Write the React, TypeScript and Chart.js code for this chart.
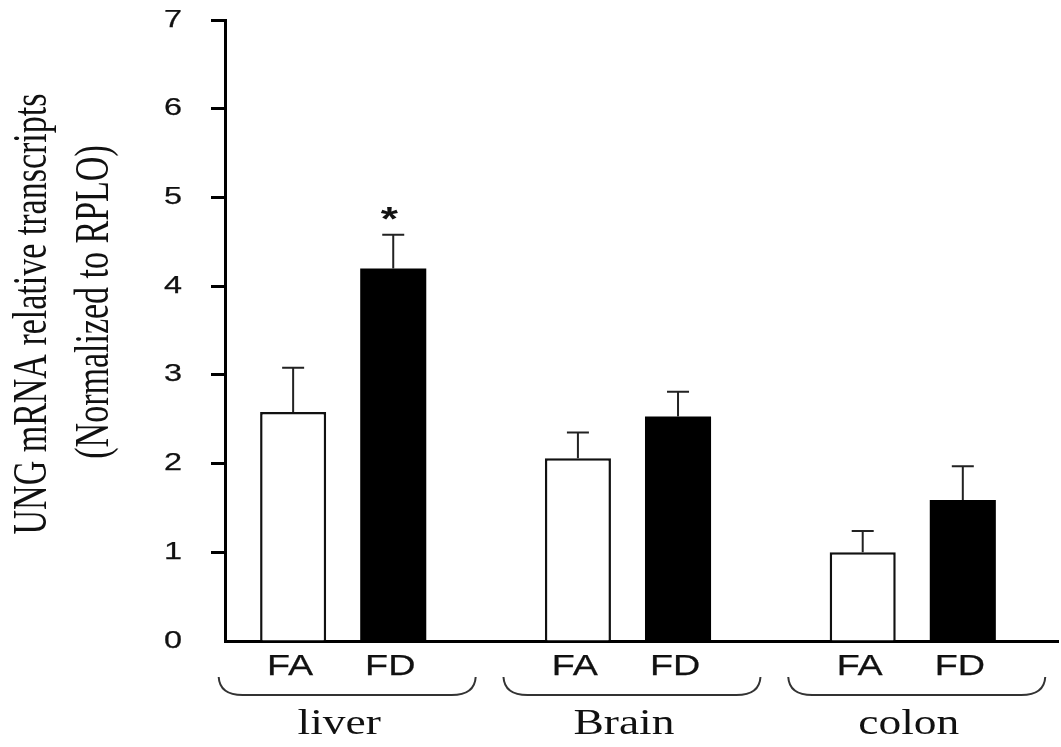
import React, { useEffect, useRef } from 'react';
import { Chart, registerables } from 'chart.js';

Chart.register(...registerables);

// Tissues on the x axis and the two diet groups shown in each
const tissues = ['liver', 'Brain', 'colon'];
const groupNames = ['FA', 'FD'];

// Mean relative transcript levels and their upper error (SEM)
const faMeans = [2.58, 2.06, 1.0];
const faErrors = [0.5, 0.29, 0.24];
const fdMeans = [4.2, 2.53, 1.59];
const fdErrors = [0.38, 0.28, 0.38];

// Significance marks over the FD bars
const fdMarks = ['*', '', ''];

// Value axis
const yTicks = [0, 1, 2, 3, 4, 5, 6, 7];
const yTitleLines = ['UNG mRNA relative transcripts', '(Normalized to RPLO)'];

const INK = '#111111';

// Draw text widened horizontally on screen
function wideText(
  ctx: CanvasRenderingContext2D,
  text: string,
  x: number,
  y: number,
  font: string,
  sx: number,
  align: CanvasTextAlign,
  baseline: CanvasTextBaseline,
  weight = 0
) {
  ctx.save();
  ctx.translate(x, y);
  ctx.scale(sx, 1);
  ctx.font = font;
  ctx.fillStyle = INK;
  ctx.textAlign = align;
  ctx.textBaseline = baseline;
  ctx.fillText(text, 0, 0);
  if (weight > 0) {
    ctx.strokeStyle = INK;
    ctx.lineWidth = weight;
    ctx.strokeText(text, 0, 0);
  }
  ctx.restore();
}

// Rotated (bottom-to-top) text, widened across the screen x direction
function upText(
  ctx: CanvasRenderingContext2D,
  text: string,
  xBaseline: number,
  yCenter: number,
  font: string,
  sx: number
) {
  ctx.save();
  ctx.translate(xBaseline, yCenter);
  ctx.rotate(-Math.PI / 2);
  ctx.scale(1, sx);
  ctx.font = font;
  ctx.fillStyle = INK;
  ctx.textAlign = 'center';
  ctx.textBaseline = 'alphabetic';
  ctx.fillText(text, 0, 0);
  ctx.restore();
}

const annotations = {
  id: 'annotations',
  afterDraw(chart: any) {
    const ctx: CanvasRenderingContext2D = chart.ctx;
    const xs = chart.scales.x;
    const ys = chart.scales.y;

    // y tick labels
    ys.ticks.forEach((t: any) => {
      const py = ys.getPixelForValue(t.value);
      wideText(ctx, String(t.value), 182, py, '24px "Liberation Sans", Arial, sans-serif', 1.35, 'right', 'middle', 0.25);
    });

    // y axis title
    upText(ctx, yTitleLines[0], 46, 314, '34px "Liberation Serif", "Times New Roman", serif', 1.4);
    upText(ctx, yTitleLines[1], 108, 302, '34px "Liberation Serif", "Times New Roman", serif', 1.4);

    // error bars, significance marks and group names under the bars
    chart.data.datasets.forEach((ds: any, di: number) => {
      const meta = chart.getDatasetMeta(di);
      meta.data.forEach((bar: any, i: number) => {
        const v = ds.data[i].y + ds.errors[i];
        const top = ys.getPixelForValue(v);
        ctx.save();
        ctx.strokeStyle = '#222';
        ctx.lineWidth = 2;
        ctx.beginPath();
        ctx.moveTo(bar.x, bar.y);
        ctx.lineTo(bar.x, top);
        ctx.moveTo(bar.x - 11, top);
        ctx.lineTo(bar.x + 11, top);
        ctx.stroke();
        ctx.restore();

        const mark = ds.marks[i];
        if (mark) {
          wideText(ctx, mark, bar.x - 4, top - 5, 'bold 34px "Liberation Sans", Arial, sans-serif', 1.3, 'center', 'alphabetic');
        }

        wideText(ctx, ds.label, bar.x - 3, 667, '29px "Liberation Sans", Arial, sans-serif', 1.3, 'center', 'middle', 0.25);
      });
    });

    // braces and tissue names
    tissues.forEach((name, i) => {
      const cx = xs.getPixelForValue(i);
      const bc = cx + 4;
      const hw = 128.5;
      const yEnd = 677;
      const yLine = 695;
      ctx.save();
      ctx.strokeStyle = '#333';
      ctx.lineWidth = 2;
      ctx.beginPath();
      ctx.moveTo(bc - hw, yEnd);
      ctx.quadraticCurveTo(bc - hw + 1, yLine, bc - hw + 24, yLine);
      ctx.lineTo(bc + hw - 24, yLine);
      ctx.quadraticCurveTo(bc + hw - 1, yLine, bc + hw, yEnd);
      ctx.stroke();
      ctx.restore();

      wideText(ctx, name, cx - 4, 734, '35px "Liberation Serif", "Times New Roman", serif', 1.3, 'center', 'alphabetic');
    });
  },
};

export default function App() {
  const canvasRef = useRef<HTMLCanvasElement | null>(null);

  useEffect(() => {
    const canvas = canvasRef.current;
    if (!canvas) return;

    const chart = new Chart(canvas, {
      type: 'bar',
      data: {
        datasets: [
          {
            label: groupNames[0],
            data: tissues.map((_, i) => ({ x: i, y: faMeans[i] })),
            errors: faErrors,
            marks: ['', '', ''],
            backgroundColor: '#ffffff',
            borderColor: '#111111',
            borderWidth: 2.5,
            borderSkipped: 'start',
            categoryPercentage: 0.703,
            barPercentage: 0.66,
          } as any,
          {
            label: groupNames[1],
            data: tissues.map((_, i) => ({ x: i, y: fdMeans[i] })),
            errors: fdErrors,
            marks: fdMarks,
            backgroundColor: '#000000',
            borderColor: '#000000',
            borderWidth: 0,
            categoryPercentage: 0.703,
            barPercentage: 0.66,
          } as any,
        ],
      },
      options: {
        animation: false,
        responsive: false,
        devicePixelRatio: 1,
        layout: { padding: { left: 211, top: 20, right: 3, bottom: 106 } },
        plugins: {
          legend: { display: false },
          tooltip: { enabled: false },
        },
        scales: {
          x: {
            type: 'linear',
            min: -0.415,
            max: 2.51,
            offset: false,
            afterBuildTicks: (scale: any) => {
              scale.ticks = tissues.map((_, i) => ({ value: i }));
            },
            ticks: { display: false },
            grid: { display: true, drawOnChartArea: false, drawTicks: false, offset: false },
            border: { display: true, color: '#000', width: 3 },
          },
          y: {
            type: 'linear',
            min: yTicks[0],
            max: yTicks[yTicks.length - 1],
            afterBuildTicks: (scale: any) => {
              scale.ticks = yTicks.map((v) => ({ value: v }));
            },
            ticks: { display: false },
            grid: {
              display: true,
              drawOnChartArea: false,
              drawTicks: true,
              tickLength: 14,
              tickWidth: 3,
              tickColor: (c: any) => (c.tick && c.tick.value === 0 ? 'rgba(0,0,0,0)' : '#000'),
            },
            border: { display: true, color: '#000', width: 3 },
          },
        },
      } as any,
      plugins: [annotations],
    });

    return () => chart.destroy();
  }, []);

  return (
    <div style={{ position: 'fixed', left: 0, top: 0, width: 1061, height: 747, background: '#fff' }}>
      <canvas ref={canvasRef} width={1061} height={747} style={{ display: 'block' }} />
    </div>
  );
}
